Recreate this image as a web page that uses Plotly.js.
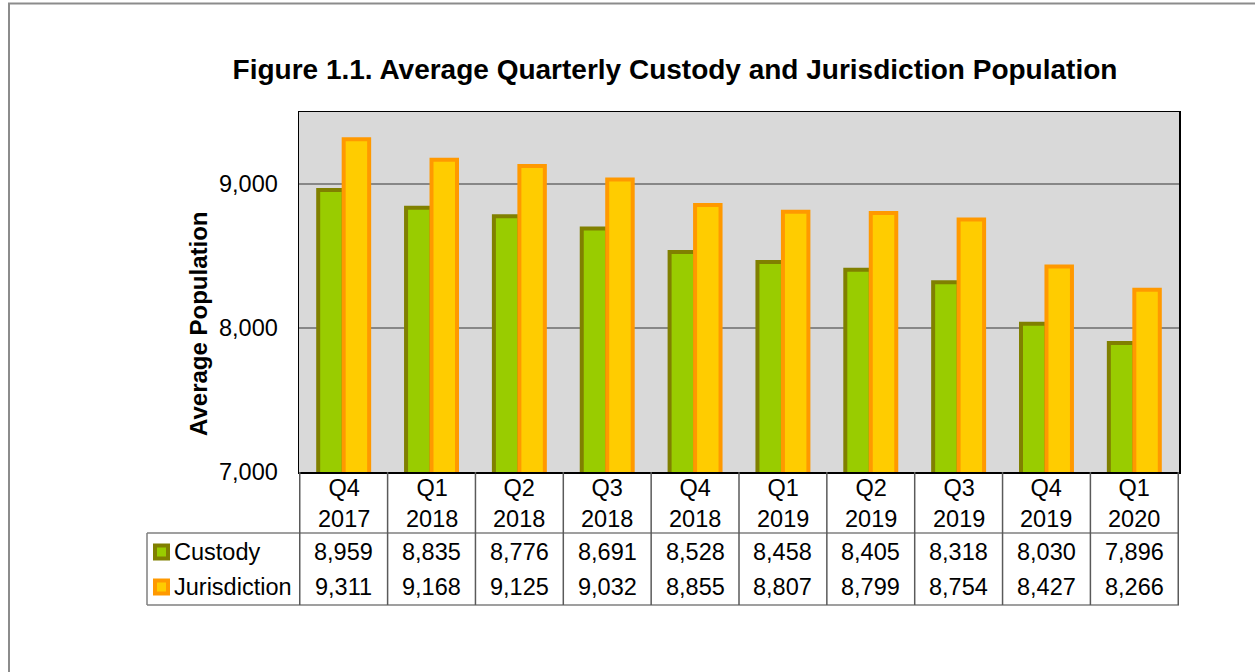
<!DOCTYPE html>
<html>
<head>
<meta charset="utf-8">
<script src="https://cdn.plot.ly/plotly-3.0.1.min.js"></script>
<style>
  html, body { margin: 0; padding: 0; background: #fff; }
  #chart { width: 1255px; height: 672px; }
</style>
</head>
<body>
<div id="chart"></div>
<script>
// data
var quarters = ["Q4 2017", "Q1 2018", "Q2 2018", "Q3 2018", "Q4 2018",
                "Q1 2019", "Q2 2019", "Q3 2019", "Q4 2019", "Q1 2020"];
var quarterLabels = ["Q4<br>2017", "Q1<br>2018", "Q2<br>2018", "Q3<br>2018", "Q4<br>2018",
                     "Q1<br>2019", "Q2<br>2019", "Q3<br>2019", "Q4<br>2019", "Q1<br>2020"];
var custody = [8959, 8835, 8776, 8691, 8528, 8458, 8405, 8318, 8030, 7896];
var jurisdiction = [9311, 9168, 9125, 9032, 8855, 8807, 8799, 8754, 8427, 8266];
var seriesNames = ["Custody", "Jurisdiction"];
var yTicks = [7000, 8000, 9000];

// plot box in pixels
var L = 299, R = 1179, T = 112, B = 472;
function px(x) { return (x - L) / (R - L); }
function py(y) { return (B - y) / (B - T); }

var FONT = "Liberation Sans, Arial, sans-serif";
var TXT = 23.5;
var fmt = function (v) { return v.toLocaleString("en-US"); };

var traces = [
  {
    type: "bar", name: seriesNames[0], x: quarters, y: custody,
    marker: { color: "#99cc00", line: { color: "#808000", width: 4 } },
    hoverinfo: "skip"
  },
  {
    type: "bar", name: seriesNames[1], x: quarters, y: jurisdiction,
    marker: { color: "#ffcc00", line: { color: "#ff9900", width: 4 } },
    hoverinfo: "skip"
  }
];

var shapes = [];
var annotations = [];

// outer frame
shapes.push({ type: "rect", xref: "paper", yref: "paper",
  x0: px(9), x1: px(1300), y0: py(3.5), y1: py(720),
  line: { color: "#8c8c8c", width: 2 } });

// data table grid
shapes.push({ type: "line", xref: "paper", yref: "paper", x0: px(147), x1: 1, y0: py(533), y1: py(533),
  line: { color: "#7f7f7f", width: 1.5 } });
shapes.push({ type: "line", xref: "paper", yref: "paper", x0: px(147), x1: 1, y0: py(605), y1: py(605),
  line: { color: "#7f7f7f", width: 1.5 } });
shapes.push({ type: "line", xref: "paper", yref: "paper", x0: px(147), x1: px(147), y0: py(533), y1: py(605),
  line: { color: "#7f7f7f", width: 1.5 } });
for (var k = 0; k <= quarters.length; k++) {
  shapes.push({ type: "line", xref: "x", yref: "paper", x0: k - 0.5, x1: k - 0.5, y0: 0, y1: py(605),
    line: { color: "#5a5a5a", width: 1.5 } });
}

// legend keys in the table
var keyFill = ["#99cc00", "#ffcc00"];
var keyLine = ["#808000", "#ff9900"];
var rowY = [552, 587];
for (var s = 0; s < 2; s++) {
  shapes.push({ type: "rect", xref: "paper", yref: "paper",
    x0: px(155), x1: px(168), y0: py(rowY[s] - 6.5), y1: py(rowY[s] + 6.5),
    fillcolor: keyFill[s], line: { color: keyLine[s], width: 4 } });
  annotations.push({ xref: "paper", yref: "paper", x: px(172), y: py(rowY[s]),
    xanchor: "left", yanchor: "middle", text: seriesNames[s], showarrow: false,
    font: { family: FONT, size: TXT, color: "#000" } });
}

// category labels and values
var rows = [custody, jurisdiction];
for (var i = 0; i < quarters.length; i++) {
  annotations.push({ xref: "x", yref: "paper", x: i, y: py(504),
    xanchor: "center", yanchor: "middle", text: quarterLabels[i], showarrow: false,
    font: { family: FONT, size: TXT, color: "#000" } });
  for (var r = 0; r < 2; r++) {
    annotations.push({ xref: "x", yref: "paper", x: i, y: py(rowY[r]),
      xanchor: "center", yanchor: "middle", text: fmt(rows[r][i]), showarrow: false,
      font: { family: FONT, size: TXT, color: "#000" } });
  }
}

// y axis title
annotations.push({ xref: "paper", yref: "paper", x: px(198), y: py(324),
  xanchor: "center", yanchor: "middle", textangle: -90, showarrow: false,
  text: "<b>Average Population</b>", font: { family: FONT, size: 24, color: "#000" } });

var layout = {
  width: 1255, height: 672,
  margin: { l: L, r: 1255 - R, t: T, b: 672 - B, pad: 0 },
  paper_bgcolor: "#ffffff",
  plot_bgcolor: "#d9d9d9",
  title: {
    text: "<b>Figure 1.1. Average Quarterly Custody and Jurisdiction Population</b>",
    font: { family: FONT, size: 28, color: "#000" },
    xref: "paper", x: px(675), xanchor: "center",
    yref: "container", y: 1 - 69 / 672, yanchor: "middle"
  },
  showlegend: false,
  barmode: "group",
  bargap: 0.42,
  bargroupgap: 0,
  xaxis: {
    type: "category", showticklabels: false, ticks: "",
    showline: true, linecolor: "#000", linewidth: 1.5, mirror: true,
    showgrid: false, fixedrange: true
  },
  yaxis: {
    range: [7000, 9500], tickvals: yTicks, ticktext: yTicks.map(fmt),
    tickfont: { family: FONT, size: TXT, color: "#000" },
    ticks: "", ticklabelstandoff: 15,
    showline: true, linecolor: "#000", linewidth: 1.5, mirror: true,
    showgrid: true, gridcolor: "#878787", gridwidth: 1.5,
    zeroline: false, fixedrange: true
  },
  shapes: shapes,
  annotations: annotations
};

Plotly.newPlot("chart", traces, layout, { displayModeBar: false, staticPlot: true });
</script>
</body>
</html>
